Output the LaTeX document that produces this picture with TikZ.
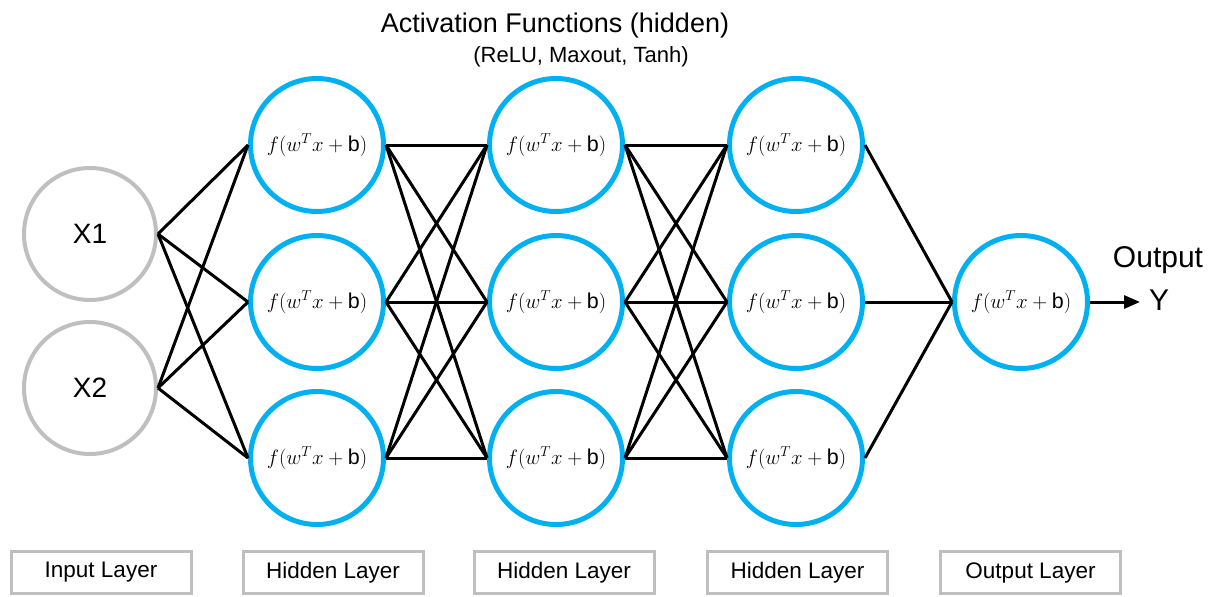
\documentclass[tikz,border=0pt]{standalone}
\usepackage{fontspec}
\setmainfont{Liberation Sans}
\usetikzlibrary{arrows.meta}
\definecolor{actblue}{HTML}{00B0F0}
\definecolor{ringgray}{HTML}{BFBFBF}

\begin{document}
\begin{tikzpicture}[x=1pt, y=-1pt,
  inp/.style={circle, draw=ringgray, line width=4pt, minimum size=132pt,
    inner sep=0pt, font=\fontsize{28}{32}\selectfont},
  act/.style={circle, draw=actblue, line width=5pt, minimum size=133pt,
    inner sep=0pt, font=\fontsize{21.5}{25}\selectfont},
  layerbox/.style={draw=ringgray, line width=3pt, minimum width=180pt,
    minimum height=42pt, inner sep=0pt, font=\fontsize{22.5}{26}\selectfont},
  link/.style={line width=3pt}]
  \useasboundingbox (0,0) rectangle (1213,597);
  % input layer
  \node[inp] (x1) at (90,234) {X1};
  \node[inp] (x2) at (90,388) {X2};
  % hidden layers
  \foreach \i/\y in {1/145, 2/302, 3/458} {
    \node[act] (ha\i) at (317,\y) {$f(w^{T}x+\mbox{b})$};
    \node[act] (hb\i) at (556,\y) {$f(w^{T}x+\mbox{b})$};
    \node[act] (hc\i) at (796,\y) {$f(w^{T}x+\mbox{b})$};
  }
  % output layer
  \node[act] (out) at (1021,302) {$f(w^{T}x+\mbox{b})$};
  % connections
  \foreach \i in {1,2}
    \foreach \j in {1,2,3}
      \draw[link] (x\i.east) -- (ha\j.west);
  \foreach \i in {1,2,3}
    \foreach \j in {1,2,3} {
      \draw[link] (ha\i.east) -- (hb\j.west);
      \draw[link] (hb\i.east) -- (hc\j.west);
    }
  \foreach \i in {1,2,3}
    \draw[link] (hc\i.east) -- (out.west);
  \coordinate (tip) at (1140,302);
  \draw[link, -{Triangle[length=16pt,width=13pt]}] (out.east) -- (tip);
  \node[anchor=base, font=\fontsize{30}{34}\selectfont] (outlab) at (1158,267) {Output};
  \node[anchor=base, font=\fontsize{30}{34}\selectfont] (ylab) at (1159,310) {Y};
  % titles
  \node[anchor=base, font=\fontsize{27}{31}\selectfont] (title) at (555,32)
    {Activation Functions (hidden)};
  \node[anchor=base, font=\fontsize{22}{26}\selectfont] (subtitle) at (581,62)
    {(ReLU, Maxout, Tanh)};
  % layer labels
  \node[layerbox] (inbox) at (101,572.5) {Input Layer};
  \node[layerbox] (habox) at (333,572.5) {Hidden Layer};
  \node[layerbox] (hbbox) at (564,572.5) {Hidden Layer};
  \node[layerbox] (hcbox) at (797.5,572.5) {Hidden Layer};
  \node[layerbox] (outbox) at (1030.5,572.5) {Output Layer};
\end{tikzpicture}
\end{document}
